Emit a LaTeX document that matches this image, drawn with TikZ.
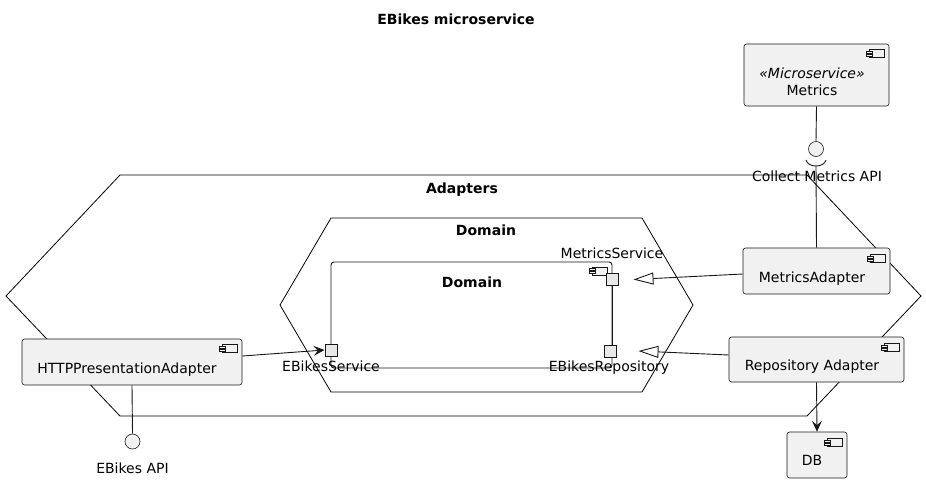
\documentclass[tikz,border=0pt]{standalone}
\usepackage{fontspec}
\setmainfont{DejaVu Sans}
\usetikzlibrary{arrows.meta,shapes.geometric}
\definecolor{bfill}{HTML}{F1F1F1}
\definecolor{bline}{HTML}{181818}
\definecolor{pfill}{HTML}{E8E8E8}
\tikzset{
  comp/.style={draw=bline, fill=bfill, rounded corners=2.5pt, line width=0.6pt, inner sep=0pt},
  portbox/.style={draw=bline, fill=pfill, minimum size=12pt, inner sep=0pt, line width=1pt},
  ifc/.style={circle, draw=bline, fill=bfill, minimum size=15pt, inner sep=0pt, line width=0.6pt},
  txt/.style={inner sep=0pt, anchor=base, font=\fontsize{14}{16}\selectfont},
  btxt/.style={txt, font=\fontsize{14}{16}\selectfont\bfseries},
  conn/.style={draw=bline, line width=0.9pt},
  pkg/.style={draw=black, line width=0.8pt},
  dep/.style={conn, -{Stealth[length=11pt,width=10pt,inset=4.5pt]}},
  gen/.style={conn, -{Triangle[open,length=20pt,width=12pt]}},
  cicon/.pic={
    \draw[draw=bline, fill=bfill, line width=0.5pt] (-15,0) rectangle (0,8);
    \draw[draw=bline, fill=bfill, line width=0.5pt] (-18,1.5) rectangle (-12,3.5);
    \draw[draw=bline, fill=bfill, line width=0.5pt] (-18,4.5) rectangle (-12,6.5);
  }
}
\begin{document}
\begin{tikzpicture}[x=1pt,y=-1pt]
\useasboundingbox (0,0) rectangle (926,483);

% title
\node[btxt] (title) at (456,24) {EBikes microservice};

% Adapters package (hexagon)
\draw[pkg] (120,175) -- (807,175) -- (921,296) -- (807,416) -- (120,416) -- (6,296) -- cycle;
\node[btxt] (adlbl) at (462,193) {Adapters};

% Domain package (hexagon)
\draw[pkg] (331,218) -- (642,218) -- (693,305) -- (642,392) -- (331,392) -- (280,305) -- cycle;
\node[btxt] (dolbl) at (486,235) {Domain};

% inner Domain component
\draw[conn] [rounded corners=3pt] (331,262) rectangle (612,368);
\node[btxt] (dilbl) at (472,287) {Domain};
\path (607,267) pic {cicon};

% boxes
\node[comp, minimum width=145pt, minimum height=62pt] (metrics) at (816.5,75) {};
\path (metrics.north east) ++(-5,6) pic {cicon};
\node[txt, font=\fontsize{14}{16}\selectfont\itshape] (mst) at (812,78) {«Microservice»};
\node[txt] (mname) at (812,95) {Metrics};

\node[comp, minimum width=147pt, minimum height=46pt] (madapt) at (816.5,271) {};
\path (madapt.north east) ++(-5,7) pic {cicon};
\node[txt] (malbl) at (812,282) {MetricsAdapter};

\node[comp, minimum width=175pt, minimum height=45pt] (radapt) at (816.5,359.5) {};
\path (radapt.north east) ++(-5,7) pic {cicon};
\node[txt] (ralbl) at (812,370) {Repository Adapter};

\node[comp, minimum width=60pt, minimum height=46pt] (db) at (817,455) {};
\path (db.north east) ++(-5,7) pic {cicon};
\node[txt] (dblbl) at (812,465) {DB};

\node[comp, minimum width=220pt, minimum height=46pt] (http) at (132,362) {};
\path (http.north east) ++(-5,6) pic {cicon};
\node[txt] (htlbl) at (127,373) {HTTPPresentationAdapter};

% interfaces
\node[ifc] (cma) at (816,149) {};
\node[txt] (cmalbl) at (817,181) {Collect Metrics API};
\node[ifc] (eapi) at (132.5,441.5) {};
\node[txt] (eapilbl) at (132.5,473) {EBikes API};

% ports
\node[portbox] (ms) at (612,279.5) {};
\node[portbox] (ebr) at (610,351) {};
\node[portbox] (ebs) at (331,350) {};
\node[txt] (mslbl) at (612,258) {MetricsService};
\node[txt] (ebrlbl) at (609,371) {EBikesRepository};
\node[txt] (ebslbl) at (331,371) {EBikesService};

% connectors
\draw[conn] (ms.south) -- (ms.south |- ebr.north);
\draw[conn] (metrics.south) -- (cma.north);
\coordinate (sockb) at (816,166);
\draw[conn] (806,160) .. controls (808,168) and (824,168) .. (826,160);
\draw[conn] (madapt.north) -- (sockb);
\draw[conn] (http.south) -- (eapi.north);
\draw[dep] ([yshift=6pt]http.east) -- (ebs.west);
\draw[dep] (radapt.south) -- (db.north);
\draw[gen] ([yshift=-3pt]madapt.west) -- ([xshift=15pt]ms.east);
\draw[gen] ([yshift=4.5pt]radapt.west) -- ([xshift=22pt]ebr.east);
\end{tikzpicture}
\end{document}
